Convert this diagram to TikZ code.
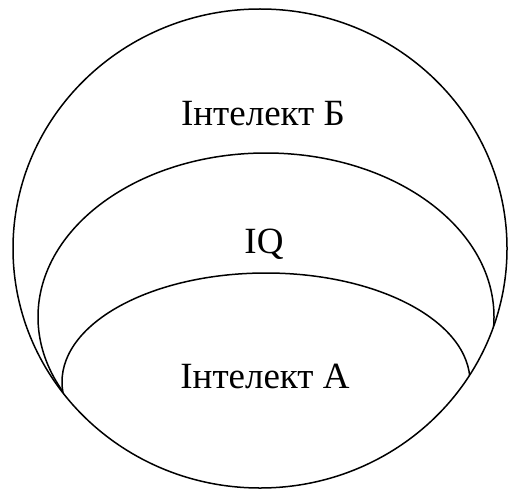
\documentclass[tikz,border=0pt]{standalone}
\usepackage{fontspec}
\setmainfont{Liberation Serif}
\begin{document}
\begin{tikzpicture}[x=1pt,y=-1pt,
  ring/.style={draw=black,line width=1.5pt},
  lbl/.style={anchor=base,inner sep=0pt,font=\fontsize{37}{40}\selectfont}]
\useasboundingbox (0,0) rectangle (510,489);
\begin{scope}
  \clip (260,248.5) ellipse [x radius=247, y radius=239.5];
  \path[ring,fill=white] (266,317) ellipse [x radius=228, y radius=164];
  \path[ring,fill=white] (266,382) ellipse [x radius=204, y radius=109];
\end{scope}
\path[ring] (260,248.5) ellipse [x radius=247, y radius=239.5];
\node[lbl] (b) at (263,126) {Інтелект Б};
\node[lbl] (iq) at (264,253) {IQ};
\node[lbl] (a) at (265,388) {Інтелект А};
\end{tikzpicture}
\end{document}
